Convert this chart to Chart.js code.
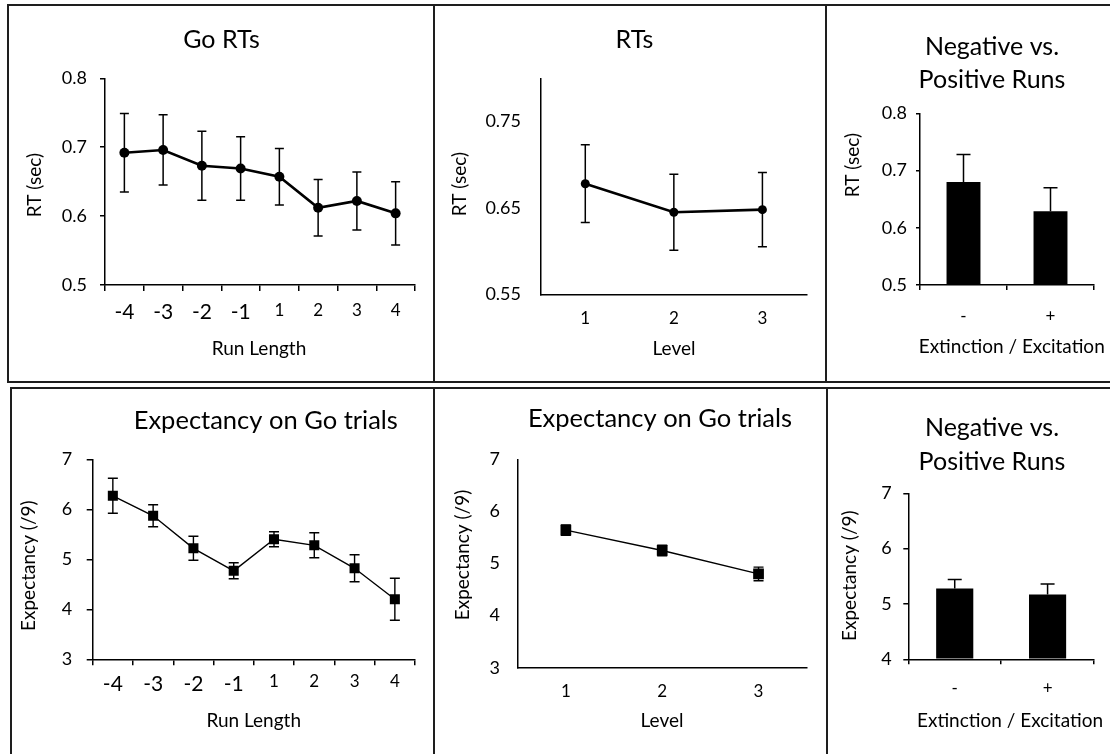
<!DOCTYPE html>
<html><head><meta charset="utf-8">
<script src="https://cdn.jsdelivr.net/npm/chart.js@4.4.1/dist/chart.umd.min.js"></script>
<style>
html,body{margin:0;padding:0;background:#fff;}
#page{position:relative;width:1110px;height:754px;overflow:hidden;background:#fff;}
.frame{position:absolute;border:2px solid #1e1e1e;box-sizing:border-box;}
.vline{position:absolute;width:2px;background:#1e1e1e;}
canvas{position:absolute;}
</style></head><body>
<div id="page">
  <div class="frame" style="left:7px;top:4px;width:1130px;height:379px"></div>
  <div class="vline" style="left:433px;top:4px;height:379px"></div>
  <div class="vline" style="left:825px;top:4px;height:379px"></div>
  <div class="frame" style="left:10px;top:387px;width:1130px;height:420px"></div>
  <div class="vline" style="left:433px;top:387px;height:420px"></div>
  <div class="vline" style="left:826px;top:387px;height:420px"></div>
  <canvas id="c1"></canvas><canvas id="c2"></canvas><canvas id="c3"></canvas>
  <canvas id="c4"></canvas><canvas id="c5"></canvas><canvas id="c6"></canvas>
</div>
<script>
// ---- data ----
const runLengths = ['-4','-3','-2','-1','1','2','3','4'];
const levels = ['1','2','3'];
const runSigns = ['-','+'];

const goRT      = [0.692, 0.696, 0.673, 0.669, 0.657, 0.612, 0.622, 0.604];
const goRTErr   = [0.057, 0.051, 0.050, 0.046, 0.041, 0.041, 0.042, 0.046];
const levelRT    = [0.678, 0.645, 0.648];
const levelRTErr = [0.045, 0.044, 0.043];
const signRT    = [0.680, 0.629];
const signRTErr = [0.048, 0.041];

const goExp      = [6.27, 5.87, 5.22, 4.77, 5.40, 5.28, 4.82, 4.20];
const goExpErr   = [0.35, 0.22, 0.24, 0.16, 0.15, 0.25, 0.27, 0.42];
const levelExp    = [5.64, 5.25, 4.80];
const levelExpErr = [0.10, 0.10, 0.13];
const signExp    = [5.28, 5.17];
const signExpErr = [0.16, 0.19];

const rtTicks      = [0.5, 0.6, 0.7, 0.8];
const rtLevelTicks = [0.55, 0.65, 0.75];
const expTicks     = [3, 4, 5, 6, 7];
const expSignTicks = [4, 5, 6, 7];

// ---- plugins ----
Chart.defaults.font.family = 'Lato';
Chart.defaults.color = '#000';

const errorBars = {
  id: 'errorBars',
  afterDatasetsDraw(chart, args, opts) {
    if (!opts.errors) return;
    const ctx = chart.ctx, meta = chart.getDatasetMeta(0), ys = chart.scales.y;
    const data = chart.data.datasets[0].data;
    ctx.save();
    ctx.strokeStyle = '#000';
    ctx.lineWidth = opts.width;
    meta.data.forEach((el, i) => {
      const v = data[i], e = opts.errors[i], x = el.x;
      const yt = ys.getPixelForValue(v + e);
      const yb = ys.getPixelForValue(opts.upOnly ? v : v - e);
      ctx.beginPath();
      ctx.moveTo(x, yt); ctx.lineTo(x, yb);
      ctx.moveTo(x - opts.cap, yt); ctx.lineTo(x + opts.cap, yt);
      if (!opts.upOnly) { ctx.moveTo(x - opts.cap, yb); ctx.lineTo(x + opts.cap, yb); }
      ctx.stroke();
    });
    ctx.restore();
  }
};

const panelText = {
  id: 'panelText',
  afterDraw(chart, args, opts) {
    const ctx = chart.ctx, ox = opts.ox, oy = opts.oy;
    opts.items.forEach(it => {
      ctx.save();
      ctx.font = it.size + 'px Lato';
      ctx.fillStyle = '#000';
      ctx.textAlign = 'center';
      ctx.textBaseline = it.rot ? 'middle' : 'alphabetic';
      ctx.translate(it.x - ox, it.y - oy);
      if (it.rot) ctx.rotate(-Math.PI / 2);
      ctx.fillText(it.text, 0, 0);
      ctx.restore();
    });
  }
};

function tickFont(c) {
  const lab = c && c.tick ? String(c.tick.label) : '';
  return { family: 'Lato', size: (lab.length > 1 && lab[0] === '-') ? 21 : 17 };
}

function makePanel(p) {
  const [cl, ct, cw, ch] = p.rect;
  const [al, at, ar, ab] = p.area;
  const cv = document.getElementById(p.id);
  cv.width = cw; cv.height = ch;
  cv.style.left = cl + 'px'; cv.style.top = ct + 'px';
  const yW = al - cl, xH = (ct + ch) - ab;
  const isBar = p.type === 'bar';
  const ds = isBar ? {
    data: p.values, backgroundColor: '#000', borderWidth: 0,
    barPercentage: p.barPct, categoryPercentage: 1, base: p.yMin
  } : {
    data: p.values, borderColor: '#000', borderWidth: p.lineW, tension: 0,
    pointStyle: p.pointStyle, pointRadius: p.pointR, pointBackgroundColor: '#000',
    pointBorderColor: '#000', pointBorderWidth: 0, fill: false
  };
  new Chart(cv, {
    type: p.type,
    data: { labels: p.labels, datasets: [ds] },
    plugins: [errorBars, panelText],
    options: {
      responsive: false, animation: false, devicePixelRatio: 1,
      layout: { padding: { left: 0, bottom: 0, top: at - ct, right: (cl + cw) - ar } },
      plugins: {
        legend: { display: false }, tooltip: { enabled: false }, title: { display: false },
        errorBars: { errors: p.errors, cap: p.cap, width: p.errW, upOnly: isBar },
        panelText: { ox: cl, oy: ct, items: p.texts }
      },
      scales: {
        x: {
          type: 'category', offset: true,
          grid: { display: p.ticks, drawTicks: p.ticks, drawOnChartArea: false, offset: true,
                  color: '#000', lineWidth: 1.5, tickLength: p.xTickLen },
          border: { display: true, color: '#000', width: 1.5 },
          ticks: { color: '#000', padding: p.xPad, font: tickFont, maxRotation: 0, autoSkip: false },
          afterFit(s) { s.height = xH; }
        },
        y: {
          type: 'linear', min: p.yMin, max: p.yMax,
          afterBuildTicks(s) { s.ticks = p.yTicks.map(v => ({ value: v })); },
          grid: { display: p.ticks, drawTicks: p.ticks, drawOnChartArea: false,
                  color: '#000', lineWidth: 1.5, tickLength: p.yTickLen },
          border: { display: true, color: '#000', width: 1.5 },
          ticks: { color: '#000', padding: p.yPad, font: { family: 'Lato', size: p.yFont },
                   callback: v => Number(v).toFixed(p.dec) },
          afterFit(s) { s.width = yW; }
        }
      }
    }
  });
}

makePanel({
  id: 'c1', type: 'line', rect: [9, 6, 424, 375], area: [105, 78.3, 415, 285],
  labels: runLengths, values: goRT, errors: goRTErr, yMin: 0.5, yMax: 0.8, yTicks: rtTicks, dec: 1,
  ticks: true, xTickLen: 6, yTickLen: 5, xPad: 9, yPad: 13, yFont: 18,
  lineW: 2.6, pointStyle: 'circle', pointR: 5, cap: 4.5, errW: 1.5,
  texts: [
    { text: 'Go RTs', x: 221.5, y: 48.3, size: 25 },
    { text: 'RT (sec)', x: 35, y: 185, size: 19, rot: true },
    { text: 'Run Length', x: 259, y: 355, size: 19 }
  ]
});
makePanel({
  id: 'c2', type: 'line', rect: [435, 6, 390, 375], area: [541, 78.3, 806.7, 294.3],
  labels: levels, values: levelRT, errors: levelRTErr, yMin: 0.55, yMax: 0.8, yTicks: rtLevelTicks, dec: 2,
  ticks: false, xTickLen: 0, yTickLen: 0, xPad: 13.8, yPad: 20, yFont: 18,
  lineW: 2.6, pointStyle: 'circle', pointR: 4.5, cap: 4.5, errW: 1.5,
  texts: [
    { text: 'RTs', x: 634.5, y: 48.3, size: 25 },
    { text: 'RT (sec)', x: 460, y: 184, size: 19, rot: true },
    { text: 'Level', x: 674, y: 355, size: 19 }
  ]
});
makePanel({
  id: 'c3', type: 'bar', rect: [827, 6, 283, 375], area: [920, 113.3, 1094, 285],
  labels: runSigns, values: signRT, errors: signRTErr, yMin: 0.5, yMax: 0.8, yTicks: rtTicks, dec: 1,
  ticks: true, xTickLen: 5, yTickLen: 4, xPad: 16.5, yPad: 9, yFont: 18, barPct: 0.39,
  cap: 7, errW: 1.5,
  texts: [
    { text: 'Negative vs.', x: 992, y: 55, size: 25 },
    { text: 'Positive Runs', x: 992, y: 88.3, size: 25 },
    { text: 'RT (sec)', x: 853.3, y: 165, size: 19, rot: true },
    { text: 'Extinction / Excitation', x: 1011.7, y: 353.3, size: 19 }
  ]
});
makePanel({
  id: 'c4', type: 'line', rect: [12, 389, 421, 365], area: [92.7, 459.3, 415, 659.3],
  labels: runLengths, values: goExp, errors: goExpErr, yMin: 3, yMax: 7, yTicks: expTicks, dec: 0,
  ticks: true, xTickLen: 6, yTickLen: 6, xPad: 6.2, yPad: 14.4, yFont: 18,
  lineW: 1.4, pointStyle: 'rect', pointR: 7.1, cap: 5, errW: 1.4,
  texts: [
    { text: 'Expectancy on Go trials', x: 265.8, y: 429.3, size: 25.5 },
    { text: 'Expectancy (/9)', x: 29.3, y: 565.7, size: 19, rot: true },
    { text: 'Run Length', x: 253.7, y: 727.3, size: 19 }
  ]
});
makePanel({
  id: 'c5', type: 'line', rect: [435, 389, 391, 365], area: [517.7, 459.3, 806.7, 667.7],
  labels: levels, values: levelExp, errors: levelExpErr, yMin: 3, yMax: 7, yTicks: expTicks, dec: 0,
  ticks: false, xTickLen: 0, yTickLen: 0, xPad: 13.8, yPad: 17.7, yFont: 18,
  lineW: 1.4, pointStyle: 'rect', pointR: 7.6, cap: 5, errW: 1.4,
  texts: [
    { text: 'Expectancy on Go trials', x: 660, y: 426.7, size: 25.5 },
    { text: 'Expectancy (/9)', x: 463.3, y: 555, size: 19, rot: true },
    { text: 'Level', x: 662, y: 727.3, size: 19 }
  ]
});
makePanel({
  id: 'c6', type: 'bar', rect: [828, 389, 282, 365], area: [908.3, 493.3, 1094, 659.3],
  labels: runSigns, values: signExp, errors: signExpErr, yMin: 4, yMax: 7, yTicks: expSignTicks, dec: 0,
  ticks: true, xTickLen: 5, yTickLen: 5, xPad: 13.8, yPad: 11.6, yFont: 18, barPct: 0.4,
  cap: 7, errW: 1.5,
  texts: [
    { text: 'Negative vs.', x: 992, y: 436, size: 25 },
    { text: 'Positive Runs', x: 992, y: 470, size: 25 },
    { text: 'Expectancy (/9)', x: 850, y: 575.7, size: 19, rot: true },
    { text: 'Extinction / Excitation', x: 1010, y: 726.7, size: 19 }
  ]
});
</script>
</body></html>
